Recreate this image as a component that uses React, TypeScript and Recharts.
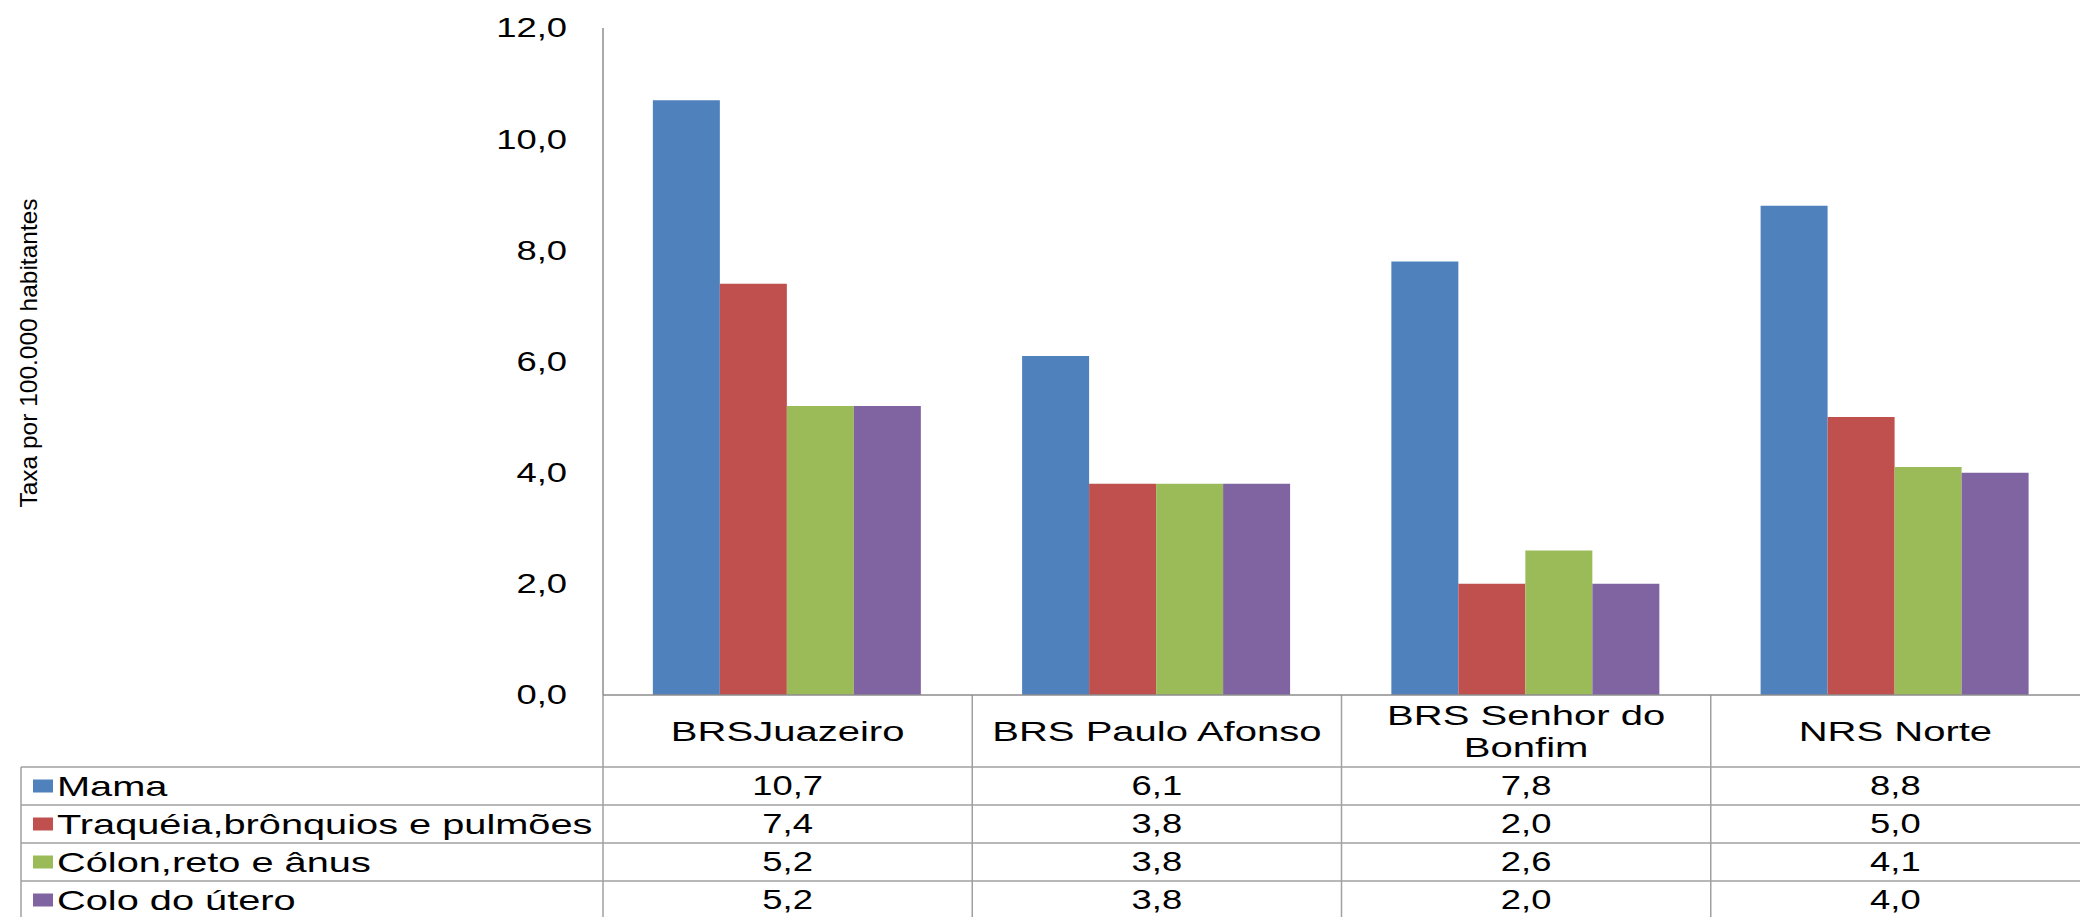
import React from 'react';
import { BarChart, Bar, XAxis, YAxis, Customized } from 'recharts';

const categories = ['BRSJuazeiro', 'BRS Paulo Afonso', 'BRS Senhor do Bonfim', 'NRS Norte'];
const headerLines = [['BRSJuazeiro'], ['BRS Paulo Afonso'], ['BRS Senhor do', 'Bonfim'], ['NRS Norte']];
const seriesNames = ['Mama', 'Traquéia,brônquios e pulmões', 'Cólon,reto e ânus', 'Colo do útero'];
const seriesColors = ['#4F81BD', '#C0504D', '#9BBB59', '#8064A2'];
const mama = [10.7, 6.1, 7.8, 8.8];
const traqueia = [7.4, 3.8, 2.0, 5.0];
const colon = [5.2, 3.8, 2.6, 4.1];
const colo = [5.2, 3.8, 2.0, 4.0];
const yTicks = [0, 2, 4, 6, 8, 10, 12];
const yLabel = 'Taxa por 100.000 habitantes';

const seriesValues = [mama, traqueia, colon, colo];
const keys = ['s0', 's1', 's2', 's3'];
const data = categories.map((name, i) => {
  const row: any = { name };
  keys.forEach((k, s) => (row[k] = seriesValues[s][i]));
  return row;
});

const W = 2080;
const H = 917;
const PLOT_LEFT = 603;
const PLOT_TOP = 28;
const AXIS_Y = 695;
const BAND = (W - PLOT_LEFT) / categories.length;
const ROW_TOP = 767;
const ROW_H = 38;
const TABLE_LEFT = 21;
const FONT = '"Liberation Sans", Arial, sans-serif';
const LINE = '#a0a0a0';
const FS = 28;

const fmt = (v: number) => v.toFixed(1).replace('.', ',');

const YTick = (props: any) => {
  const { y, payload } = props;
  return (
    <text
      transform={`translate(567,${y}) scale(1.3,1)`}
      textAnchor="end"
      dominantBaseline="central"
      fontFamily={FONT}
      fontSize={FS}
      fill="#000"
    >
      {fmt(payload.value)}
    </text>
  );
};

const XTick = (props: any) => {
  const { x, payload } = props;
  const idx = categories.indexOf(payload.value);
  const lines = headerLines[idx] || [payload.value];
  const mid = (AXIS_Y + ROW_TOP) / 2;
  return (
    <g fontFamily={FONT} fill="#000">
      {lines.map((l, i) => (
        <text
          key={i}
          transform={`translate(${x},${mid + (i - (lines.length - 1) / 2) * 32}) scale(1.43,1)`}
          textAnchor="middle"
          dominantBaseline="central"
          fontSize={FS}
        >
          {l}
        </text>
      ))}
      {seriesValues.map((vals, s) => (
        <text
          key={'v' + s}
          transform={`translate(${x},${ROW_TOP + ROW_H * s + ROW_H / 2}) scale(1.3,1)`}
          textAnchor="middle"
          dominantBaseline="central"
          fontSize={FS}
        >
          {fmt(vals[idx])}
        </text>
      ))}
    </g>
  );
};

const TableOverlay = () => (
  <g>
    <line x1={PLOT_LEFT} y1={AXIS_Y} x2={PLOT_LEFT} y2={H} stroke={LINE} strokeWidth={1.5} />
    {categories.slice(1).map((_, i) => (
      <line
        key={'vl' + i}
        x1={PLOT_LEFT + BAND * (i + 1)}
        y1={AXIS_Y}
        x2={PLOT_LEFT + BAND * (i + 1)}
        y2={H}
        stroke={LINE}
        strokeWidth={1.5}
      />
    ))}
    <line x1={TABLE_LEFT} y1={ROW_TOP} x2={TABLE_LEFT} y2={H} stroke={LINE} strokeWidth={1.5} />
    {seriesNames.map((_, s) => (
      <line
        key={'hl' + s}
        x1={TABLE_LEFT}
        y1={ROW_TOP + ROW_H * s}
        x2={W}
        y2={ROW_TOP + ROW_H * s}
        stroke={LINE}
        strokeWidth={1.5}
      />
    ))}
    {seriesNames.map((name, s) => {
      const cy = ROW_TOP + ROW_H * s + ROW_H / 2;
      return (
        <g key={'lg' + s}>
          <rect x={33} y={cy - 6.5} width={20} height={13} fill={seriesColors[s]} />
          <text
            transform={`translate(57,${cy}) scale(1.42,1)`}
            dominantBaseline="central"
            fontFamily={FONT}
            fontSize={FS}
            fill="#000"
          >
            {name}
          </text>
        </g>
      );
    })}
    <text
      transform={`translate(28,353) rotate(-90)`}
      textAnchor="middle"
      dominantBaseline="central"
      fontFamily={FONT}
      fontSize={24.5}
      fill="#000"
    >
      {yLabel}
    </text>
  </g>
);

export default function App() {
  return (
    <div style={{ position: 'absolute', left: 0, top: 0, width: W, height: H, background: '#fff' }}>
      <BarChart
        width={W}
        height={H}
        data={data}
        margin={{ top: PLOT_TOP, right: 0, bottom: 0, left: 0 }}
        barCategoryGap="13.5%"
        barGap={0}
      >
        <YAxis
          domain={[0, 12]}
          ticks={yTicks}
          width={PLOT_LEFT}
          axisLine={{ stroke: '#8c8c8c', strokeWidth: 1.5 }}
          tickLine={false}
          tick={<YTick />}
          interval={0}
        />
        <XAxis
          dataKey="name"
          height={H - AXIS_Y}
          axisLine={{ stroke: '#8c8c8c', strokeWidth: 1.5 }}
          tickLine={false}
          tick={<XTick />}
          interval={0}
        />
        {keys.map((k, s) => (
          <Bar key={k} dataKey={k} name={seriesNames[s]} fill={seriesColors[s]} isAnimationActive={false} />
        ))}
        <Customized component={TableOverlay} />
      </BarChart>
    </div>
  );
}
